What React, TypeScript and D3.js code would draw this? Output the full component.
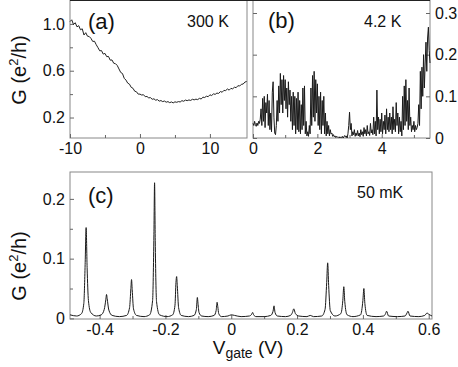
import * as d3 from "d3";
import React, { useRef, useEffect } from "react";

// panel (a): 300 K, gate voltage -10 .. 15.25 V in 0.25 V steps
const gA = [
  1.02, 1.035, 0.995, 1.01,
  0.975, 0.985, 0.95, 0.958,
  0.905, 0.925, 0.895, 0.892,
  0.876, 0.85, 0.852, 0.822,
  0.797, 0.77, 0.772, 0.742,
  0.748, 0.72, 0.722, 0.69,
  0.692, 0.664, 0.66, 0.645,
  0.615, 0.585, 0.576, 0.535,
  0.52, 0.494, 0.485, 0.458,
  0.45, 0.425, 0.42, 0.4,
  0.4, 0.392, 0.395, 0.378,
  0.38, 0.368, 0.37, 0.356,
  0.36, 0.348, 0.353, 0.34,
  0.345, 0.336, 0.341, 0.331,
  0.336, 0.327, 0.333, 0.325,
  0.334, 0.33, 0.336, 0.333,
  0.344, 0.339, 0.349, 0.344,
  0.35, 0.346, 0.356, 0.351,
  0.357, 0.353, 0.364, 0.358,
  0.374, 0.371, 0.382, 0.378,
  0.394, 0.388, 0.402, 0.398,
  0.409, 0.406, 0.422, 0.416,
  0.432, 0.43, 0.444, 0.434,
  0.449, 0.445, 0.459, 0.455,
  0.472, 0.469, 0.484, 0.486,
  0.503, 0.508,
];
const vStartA = -10;
const vStepA = 0.25;

// panel (b): 4.2 K, 0 .. 5.5 V in 0.025 V steps
const gB = [
  0.035, 0.03, 0.04, 0.032, 0.028, 0.036, 0.03, 0.04, 0.035, 0.045,
  0.07, 0.03, 0.095, 0.04, 0.1, 0.025, 0.085, 0.06, 0.105, 0.03,
  0.09, 0.02, 0.06, 0.015, 0.11, 0.135, 0.05, 0.012, 0.008, 0.03,
  0.09, 0.04, 0.125, 0.06, 0.155, 0.08, 0.14, 0.06, 0.15, 0.09,
  0.14, 0.07, 0.12, 0.05, 0.135, 0.08, 0.115, 0.04, 0.1, 0.02,
  0.11, 0.03, 0.1, 0.01, 0.095, 0.02, 0.11, 0.015, 0.09, 0.01,
  0.08, 0.02, 0.12, 0.03, 0.125, 0.01, 0.04, 0.005, 0.015, 0.004,
  0.03, 0.01, 0.12, 0.03, 0.15, 0.05, 0.16, 0.04, 0.14, 0.06,
  0.13, 0.03, 0.1, 0.02, 0.11, 0.01, 0.09, 0.03, 0.1, 0.01,
  0.06, 0.005, 0.04, 0.01, 0.03, 0.005, 0.02, 0.01, 0.012, 0.004,
  0.008, 0.003, 0.005, 0.001, 0.004, 0.002, 0.001, 0.003, 0.0, 0.002,
  0.001, 0.004, 0.0, 0.003, 0.006, 0.002, 0.005, 0.0, 0.01, 0.03,
  0.062, 0.02, 0.035, 0.005, 0.015, 0.008, 0.02, 0.004, 0.012, 0.006,
  0.018, 0.005, 0.012, 0.003, 0.02, 0.008, 0.015, 0.004, 0.025, 0.01,
  0.02, 0.005, 0.03, 0.01, 0.015, 0.006, 0.035, 0.012, 0.02, 0.008,
  0.05, 0.01, 0.04, 0.005, 0.115, 0.02, 0.05, 0.01, 0.045, 0.015,
  0.06, 0.01, 0.04, 0.02, 0.055, 0.01, 0.07, 0.02, 0.05, 0.015,
  0.06, 0.02, 0.05, 0.01, 0.075, 0.02, 0.045, 0.015, 0.085, 0.03,
  0.06, 0.01, 0.05, 0.015, 0.04, 0.005, 0.1, 0.02, 0.125, 0.03,
  0.14, 0.04, 0.09, 0.02, 0.12, 0.03, 0.05, 0.015, 0.03, 0.02,
  0.04, 0.015, 0.03, 0.02, 0.025, 0.035, 0.08, 0.03, 0.16, 0.07,
  0.17, 0.1, 0.2, 0.12, 0.18, 0.23, 0.16, 0.24, 0.266, 0.21,
  0.18,
];
const vStepB = 0.025;

// panel (c): 50 mK, Coulomb peaks
const vC = [
  -0.49, -0.47, -0.455, -0.448, -0.444, -0.441, -0.438, -0.434, -0.427, -0.41,
  -0.395, -0.386, -0.381, -0.379, -0.377, -0.372, -0.362, -0.34, -0.318, -0.309,
  -0.305, -0.303, -0.301, -0.297, -0.288, -0.265, -0.248, -0.239, -0.235, -0.233,
  -0.231, -0.227, -0.218, -0.195, -0.178, -0.171, -0.168, -0.166, -0.164, -0.16,
  -0.152, -0.13, -0.113, -0.106, -0.103, -0.101, -0.098, -0.09, -0.07, -0.052,
  -0.046, -0.043, -0.041, -0.038, -0.03, -0.01, 0.0, 0.01, 0.03, 0.055,
  0.062, 0.065, 0.068, 0.075, 0.1, 0.12, 0.127, 0.13, 0.133, 0.14,
  0.165, 0.18, 0.186, 0.19, 0.195, 0.205, 0.23, 0.24, 0.25, 0.275,
  0.285, 0.29, 0.293, 0.296, 0.301, 0.315, 0.333, 0.339, 0.342, 0.345,
  0.352, 0.37, 0.393, 0.4, 0.403, 0.406, 0.413, 0.44, 0.463, 0.469,
  0.472, 0.478, 0.505, 0.528, 0.534, 0.537, 0.543, 0.57, 0.588, 0.595,
  0.6, 0.61,
];
const gC = [
  0.006, 0.004, 0.008, 0.025, 0.09, 0.152, 0.085, 0.03, 0.01, 0.004,
  0.006, 0.015, 0.032, 0.04, 0.033, 0.014, 0.005, 0.003, 0.005, 0.018,
  0.05, 0.065, 0.048, 0.016, 0.005, 0.003, 0.006, 0.03, 0.14, 0.227,
  0.13, 0.028, 0.006, 0.003, 0.006, 0.022, 0.06, 0.07, 0.055, 0.018,
  0.005, 0.003, 0.005, 0.015, 0.035, 0.025, 0.01, 0.004, 0.003, 0.005,
  0.013, 0.027, 0.02, 0.008, 0.003, 0.004, 0.006, 0.005, 0.003, 0.004,
  0.007, 0.01, 0.006, 0.003, 0.003, 0.005, 0.012, 0.021, 0.01, 0.004,
  0.003, 0.005, 0.01, 0.016, 0.008, 0.004, 0.003, 0.005, 0.003, 0.004,
  0.015, 0.06, 0.093, 0.055, 0.013, 0.004, 0.008, 0.03, 0.053, 0.028,
  0.006, 0.003, 0.006, 0.03, 0.05, 0.025, 0.005, 0.003, 0.004, 0.008,
  0.012, 0.004, 0.003, 0.004, 0.009, 0.012, 0.004, 0.003, 0.005, 0.009,
  0.007, 0.004,
];

const ticksAx = [-10, 0, 10];
const minorAx = [-5, 5];
const ticksAy = [0.2, 0.6, 1.0];
const minorAy = [0.4, 0.8];
const ticksBx = [0, 2, 4];
const minorBx = [1, 3, 5];
const ticksBy = [0, 0.1, 0.2, 0.3];
const ticksCx = [-0.4, -0.2, 0, 0.2, 0.4, 0.6];
const minorCx = [-0.3, -0.1, 0.1, 0.3, 0.5];
const ticksCy = [0, 0.1, 0.2];
const minorCy = [0.05, 0.15];

const W = 458;
const H = 367;
const FONT = "'Liberation Sans', Arial, sans-serif";
const fmt = (d) => String(d);
const fmtA = (d) => d3.format(".1f")(d);

const App = () => {
  const ref = useRef(null);

  useEffect(() => {
    const svg = d3.select(ref.current);
    svg.selectAll("*").remove();

    const xA = d3.scaleLinear().domain([-10, 15.3]).range([70, 247]);
    const yA = d3.scaleLinear().domain([0.025, 1.2]).range([138, 0.5]);
    const xB = d3.scaleLinear().domain([0, 5.5]).range([253, 430]);
    const yB = d3.scaleLinear().domain([0, 0.33]).range([138, 0.5]);
    const xC = d3.scaleLinear().domain([-0.49, 0.61]).range([70, 432]);
    const yC = d3.scaleLinear().domain([-0.001, 0.245]).range([319, 172]);

    const frame = (x0, x1, y0, y1) => {
      svg.append("rect")
        .attr("x", x0).attr("y", y0)
        .attr("width", x1 - x0).attr("height", y1 - y0)
        .attr("fill", "none").attr("stroke", "#888").attr("stroke-width", 1);
    };

    const axis = (g, ax, major, minor, labels) => {
      g.call(ax.tickValues(major).tickSizeInner(-4).tickSizeOuter(0).tickPadding(5)
        .tickFormat(labels ? labels : () => ""));
      g.select(".domain").remove();
      g.attr("font-family", FONT).attr("font-size", 16);
      g.selectAll(".tick line").attr("stroke", "#666");
      g.selectAll(".tick text").attr("fill", "#111");
      if (minor) {
        const m = svg.append("g").attr("transform", g.attr("transform"));
        m.call(ax.tickValues(minor).tickSizeInner(-3).tickFormat(() => ""));
        m.select(".domain").remove();
        m.selectAll(".tick line").attr("stroke", "#666");
      }
    };

    // panel (a)
    frame(70, 247, 0.5, 138);
    axis(svg.append("g").attr("transform", "translate(0,138)"), d3.axisBottom(xA), ticksAx, minorAx, fmt);
    axis(svg.append("g").attr("transform", "translate(70,0)"), d3.axisLeft(yA), ticksAy, minorAy, fmtA);
    const lineA = d3.line()
      .x((d, i) => xA(vStartA + i * vStepA))
      .y((d) => yA(d));
    svg.append("path").attr("d", lineA(gA))
      .attr("fill", "none").attr("stroke", "#222").attr("stroke-width", 1);

    // panel (b)
    frame(253, 430, 0.5, 138);
    axis(svg.append("g").attr("transform", "translate(0,138)"), d3.axisBottom(xB), ticksBx, minorBx, fmt);
    axis(svg.append("g").attr("transform", "translate(430,0)"), d3.axisRight(yB), ticksBy, null, fmt);
    axis(svg.append("g").attr("transform", "translate(253,0)"), d3.axisLeft(yB), ticksBy, null, null);
    const lineB = d3.line()
      .x((d, i) => xB(i * vStepB))
      .y((d) => yB(d));
    svg.append("path").attr("d", lineB(gB))
      .attr("fill", "none").attr("stroke", "#1a1a1a").attr("stroke-width", 1);

    // top edge of the upper panels
    svg.append("line").attr("x1", 70).attr("x2", 430).attr("y1", 0.5).attr("y2", 0.5)
      .attr("stroke", "#222");

    // panel (c)
    frame(70, 432, 172, 319);
    axis(svg.append("g").attr("transform", "translate(0,319)"), d3.axisBottom(xC), ticksCx, minorCx, fmt);
    axis(svg.append("g").attr("transform", "translate(70,0)"), d3.axisLeft(yC), ticksCy, minorCy, fmt);
    const lineC = d3.line()
      .x((d, i) => xC(vC[i]))
      .y((d) => yC(d))
      .curve(d3.curveMonotoneX);
    svg.append("path").attr("d", lineC(gC))
      .attr("fill", "none").attr("stroke", "#1a1a1a").attr("stroke-width", 1);

    // annotations
    const label = (x, y, size, text) =>
      svg.append("text").attr("x", x).attr("y", y)
        .attr("font-family", FONT).attr("font-size", size).attr("fill", "#111").text(text);
    label(88, 29, 22, "(a)");
    label(187, 27, 16, "300 K");
    label(268, 28, 22, "(b)");
    label(364, 27, 16, "4.2 K");
    label(88, 203, 22, "(c)");
    label(357, 198, 16, "50 mK");

    // y titles
    [70, 266].forEach((cy) => {
      const t = svg.append("text")
        .attr("transform", `translate(26,${cy}) rotate(-90)`)
        .attr("text-anchor", "middle")
        .attr("font-family", FONT).attr("font-size", 20).attr("fill", "#111");
      t.append("tspan").text("G (e");
      t.append("tspan").attr("font-size", 13).attr("dy", -8).text("2");
      t.append("tspan").attr("dy", 8).text("/h)");
    });

    // x title
    const xt = svg.append("text")
      .attr("x", 248).attr("y", 354)
      .attr("text-anchor", "middle")
      .attr("font-family", FONT).attr("font-size", 19).attr("fill", "#111");
    xt.append("tspan").text("V");
    xt.append("tspan").attr("font-size", 14).attr("dy", 4).text("gate");
    xt.append("tspan").attr("dy", -4).text(" (V)");
  }, []);

  return (
    <svg
      ref={ref}
      width={W}
      height={H}
      style={{ position: "absolute", left: 0, top: 0, background: "#fff" }}
    />
  );
};

export default App;
